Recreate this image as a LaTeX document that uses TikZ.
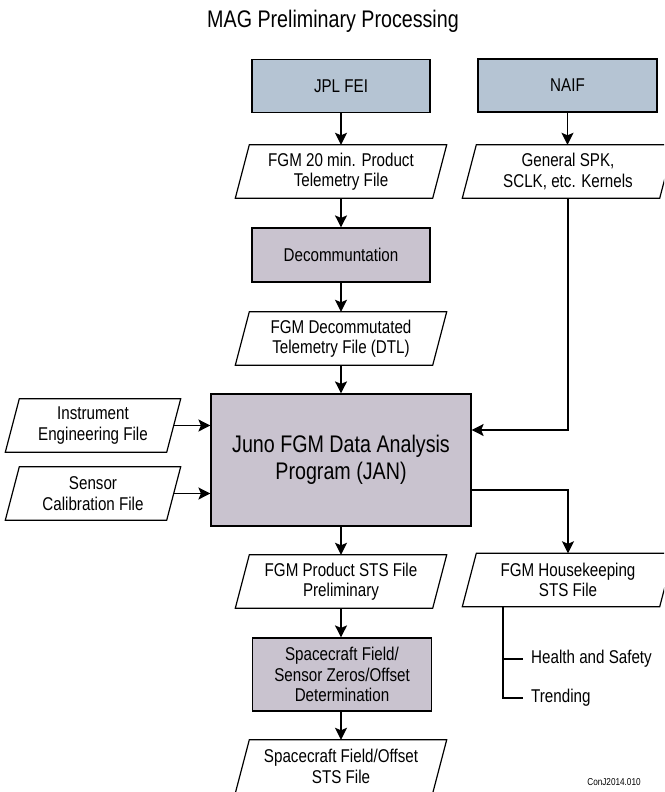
\documentclass[tikz,border=0pt]{standalone}
\usepackage{fontspec}
\setmainfont{Liberation Sans}[FakeStretch=0.82]
\usetikzlibrary{arrows.meta}
\definecolor{boxblue}{RGB}{181,196,211}
\definecolor{boxlav}{RGB}{201,195,207}
\begin{document}
\begin{tikzpicture}[x=1pt,y=-1pt,
  every node/.style={font=\fontsize{18.5}{20.5}\selectfont, align=center, inner sep=0pt},
  proc/.style={draw, line width=1.2pt, minimum width=178pt, minimum height=53pt},
  srcbox/.style={proc, fill=boxblue},
  stepbox/.style={proc, fill=boxlav},
  para/.style={minimum width=#1, minimum height=53pt,
    append after command={\pgfextra{\draw[line width=1.2pt]
      ([xshift=7pt]\tikzlastnode.north west) -- ([xshift=7pt]\tikzlastnode.north east) --
      ([xshift=-7pt]\tikzlastnode.south east) -- ([xshift=-7pt]\tikzlastnode.south west) -- cycle;}}},
  para/.default=197pt,
  arr/.style={line width=1.6pt, -{Stealth[length=12pt,width=12pt,inset=2.5pt]}},
  tree/.style={line width=1.6pt},
]
\useasboundingbox (0,0) rectangle (664,792);
\clip (0,0) rectangle (664,792);

\node[font=\fontsize{24}{28}\selectfont] (title) at (333,21) {MAG Preliminary Processing};

\node[srcbox] (jpl) at (341,86) {JPL FEI};
\node[srcbox, minimum width=179pt] (naif) at (567.5,85.5) {NAIF};
\node[para] (fgm20) at (341,171.5) {FGM 20 min. Product\\Telemetry File};
\node[para] (spk) at (568,171.5) {General SPK,\\SCLK, etc. Kernels};
\node[stepbox, minimum height=54pt] (decom) at (341,255) {Decommuntation};
\node[para] (dtl) at (341,338.5) {FGM Decommutated\\Telemetry File (DTL)};
\node[stepbox, minimum width=260pt, minimum height=132pt, font=\fontsize{24}{27}\selectfont] (jan) at (341,460) {Juno FGM Data Analysis\\Program (JAN)};
\node[para=161pt] (inst) at (93,425.5) {Instrument\\Engineering File};
\node[para=161pt] (sens) at (93,493.5) {Sensor\\Calibration File};
\node[para] (prod) at (341,581.5) {FGM Product STS File\\Preliminary};
\node[para] (hk) at (568,580) {FGM Housekeeping\\STS File};
\node[stepbox, minimum width=179pt, minimum height=73pt] (scf) at (342,674.5) {Spacecraft Field/\\Sensor Zeros/Offset\\Determination};
\node[para] (sco) at (341,766.5) {Spacecraft Field/Offset\\STS File};

\node[anchor=west] (hs) at (531,659) {Health and Safety};
\node[anchor=west] (tr) at (531,698) {Trending};
\node[font=\fontsize{10}{11}\selectfont] (ref) at (614,782) {ConJ2014.010};

\draw[arr] (jpl.south) -- (fgm20.north);
\draw[arr] (naif.south) -- (naif.south |- spk.north);
\draw[arr] (fgm20.south) -- (decom.north);
\draw[arr] (decom.south) -- (dtl.north);
\draw[arr] (dtl.south) -- (jan.north);
\draw[arr] (inst.east) -- (inst.east -| jan.west);
\draw[arr] (sens.east) -- (sens.east -| jan.west);
\draw[arr] (spk.south) |- ([yshift=30pt]jan.east);
\draw[arr] ([yshift=-30pt]jan.east) -| (hk.north);
\draw[arr] (jan.south) -- (prod.north);
\draw[arr] (prod.south) -- (prod.south |- scf.north);
\draw[arr] (prod.south |- scf.south) -- (prod.south |- sco.north);

\coordinate (hkb) at ([xshift=-65pt]hk.south);
\draw[tree] (hkb) -- (hkb |- tr.west) -- ([xshift=-8pt]tr.west);
\draw[tree] (hkb |- hs.west) -- ([xshift=-8pt]hs.west);
\end{tikzpicture}
\end{document}
